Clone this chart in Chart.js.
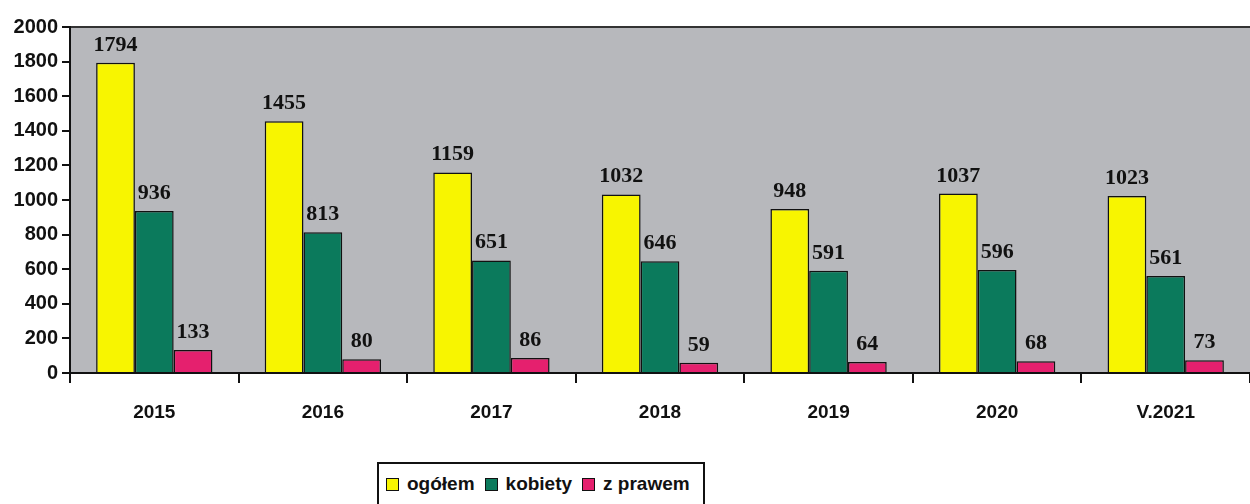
<!DOCTYPE html>
<html>
<head>
<meta charset="utf-8">
<script src="https://cdn.jsdelivr.net/npm/chart.js@4.4.0/dist/chart.umd.min.js"></script>
<style>
    body { margin: 0; background: #ffffff; width: 1250px; height: 504px; overflow: hidden; position: relative; }
    #chart { position: absolute; left: 0; top: 0; }
    .legend {
        position: absolute; left: 377px; top: 462px; width: 328px; height: 44px;
        border: 2px solid #111; box-sizing: border-box; background: #fff;
        display: flex; align-items: center; padding-left: 7px; white-space: nowrap;
        font-family: "Liberation Sans", Arial, sans-serif; font-weight: bold; font-size: 19px; color: #111;
    }
    .legend span.sw { display: inline-block; flex: none; width: 11px; height: 11px; border: 1.5px solid #111; margin-right: 8px; }
    .legend span.tx { margin-right: 10px; }
</style>
</head>
<body>
<canvas id="chart" width="1250" height="440"></canvas>
<div class="legend" id="legend"></div>
<script>
    // ===== 数据 =====
    const years = ["2015", "2016", "2017", "2018", "2019", "2020", "V.2021"];
    const ogolem = [1794, 1455, 1159, 1032, 948, 1037, 1023];
    const kobiety = [936, 813, 651, 646, 591, 596, 561];
    const zPrawem = [133, 80, 86, 59, 64, 68, 73];
    const seriesNames = ["ogółem", "kobiety", "z prawem"];
    const seriesColors = ["#f8f500", "#0b7a5c", "#e5206e"];
    const yTicks = [0, 200, 400, 600, 800, 1000, 1200, 1400, 1600, 1800, 2000];

    // 灰色背景 + 顶部边线
    const plotBg = {
        id: "plotBg",
        beforeDraw(chart) {
            const { ctx, chartArea: a } = chart;
            ctx.save();
            ctx.fillStyle = "#b7b8bc";
            ctx.fillRect(a.left, a.top, a.right - a.left, a.bottom - a.top);
            ctx.strokeStyle = "#333";
            ctx.lineWidth = 2;
            ctx.beginPath();
            ctx.moveTo(a.left, a.top);
            ctx.lineTo(a.right, a.top);
            ctx.stroke();
            ctx.restore();
        }
    };

    // 柱顶数值
    const valueLabels = {
        id: "valueLabels",
        afterDatasetsDraw(chart) {
            const { ctx } = chart;
            ctx.save();
            ctx.font = "bold 22px 'Liberation Serif', 'Times New Roman', serif";
            ctx.fillStyle = "#111";
            ctx.textAlign = "center";
            ctx.textBaseline = "alphabetic";
            chart.data.datasets.forEach((ds, di) => {
                chart.getDatasetMeta(di).data.forEach((bar, i) => {
                    ctx.fillText(String(ds.data[i]), bar.x, bar.y - 12);
                });
            });
            ctx.restore();
        }
    };

    const tickFont = { family: "'Liberation Sans', Arial, sans-serif", weight: "bold" };

    new Chart(document.getElementById("chart"), {
        type: "bar",
        data: {
            labels: years,
            datasets: [ogolem, kobiety, zPrawem].map((d, i) => ({
                label: seriesNames[i],
                data: d,
                backgroundColor: seriesColors[i],
                borderColor: "#111",
                borderWidth: 1.5,
                barPercentage: 1,
                categoryPercentage: 0.69
            }))
        },
        options: {
            responsive: false,
            animation: false,
            layout: { padding: { top: 27, right: 0, left: 0, bottom: 0 } },
            plugins: { legend: { display: false }, tooltip: { enabled: false } },
            scales: {
                x: {
                    offset: true,
                    border: { color: "#111", width: 2 },
                    grid: { drawOnChartArea: false, color: "#111", lineWidth: 2, tickLength: 10, offset: true },
                    ticks: { color: "#111", padding: 18, font: { ...tickFont, size: 19 } },
                    afterFit(s) { s.height = 67; }
                },
                y: {
                    min: 0,
                    max: 2000,
                    border: { color: "#111", width: 2 },
                    grid: { drawOnChartArea: false, color: "#111", lineWidth: 2, tickLength: 8 },
                    afterBuildTicks(s) { s.ticks = yTicks.map(v => ({ value: v })); },
                    ticks: { color: "#111", padding: 4, font: { ...tickFont, size: 20 }, callback: v => String(v) },
                    afterFit(s) { s.width = 70; }
                }
            }
        },
        plugins: [plotBg, valueLabels]
    });

    // ===== 图例 =====
    const legend = document.getElementById("legend");
    seriesNames.forEach((name, i) => {
        const sw = document.createElement("span");
        sw.className = "sw";
        sw.style.background = seriesColors[i];
        const tx = document.createElement("span");
        tx.className = "tx";
        tx.textContent = name;
        legend.appendChild(sw);
        legend.appendChild(tx);
    });
</script>
</body>
</html>
